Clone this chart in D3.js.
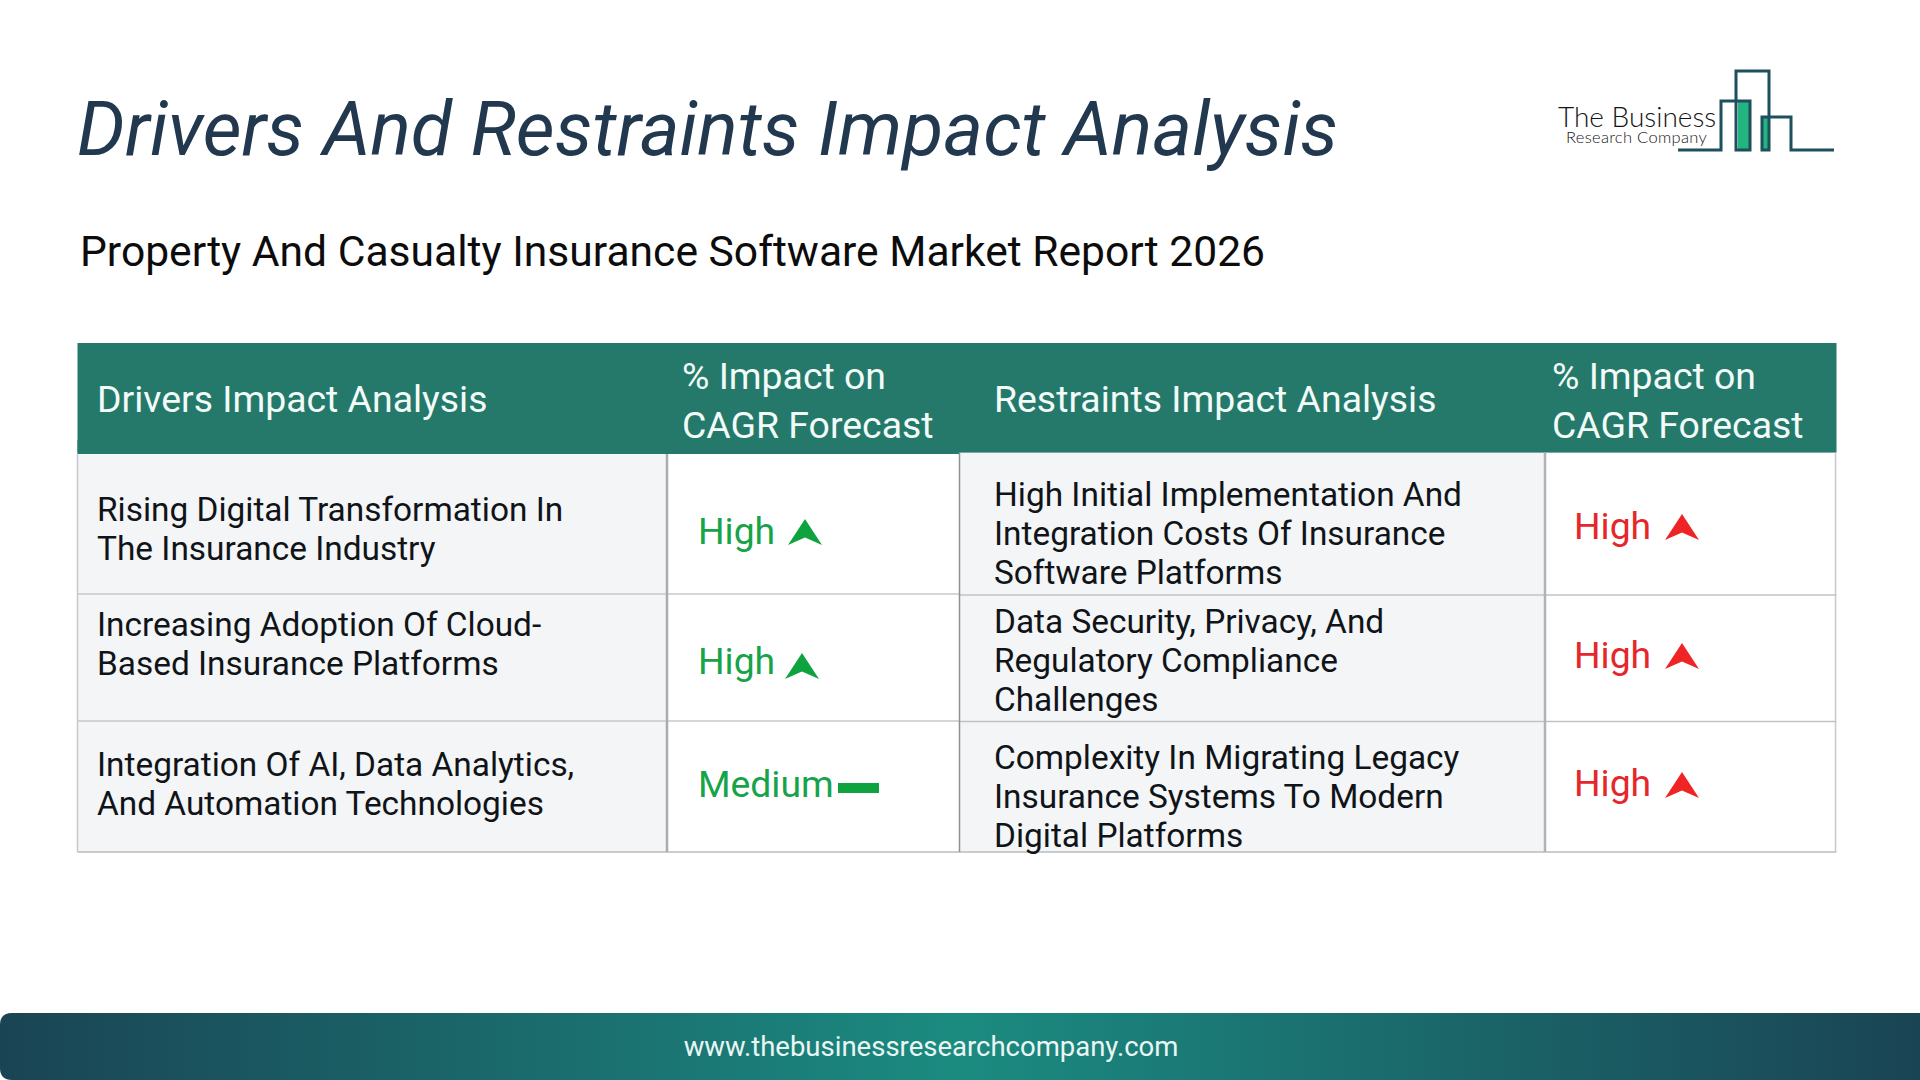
<!DOCTYPE html>
<html><head><meta charset="utf-8">
<script src="https://cdn.jsdelivr.net/npm/d3@7"></script>
<style>html,body{margin:0;padding:0;background:#fff;overflow:hidden}text{font-family:Roboto,sans-serif}</style>
</head><body><svg id="c" width="1920" height="1080"></svg>
<script>
const titleText = "Drivers And Restraints Impact Analysis";
const subtitleText = "Property And Casualty Insurance Software Market Report 2026";
const footerText = "www.thebusinessresearchcompany.com";
const headerLabels = [["Drivers Impact Analysis"],["% Impact on","CAGR Forecast"],["Restraints Impact Analysis"],["% Impact on","CAGR Forecast"]];
const drivers = [["Rising Digital Transformation In","The Insurance Industry"],["Increasing Adoption Of Cloud-","Based Insurance Platforms"],["Integration Of AI, Data Analytics,","And Automation Technologies"]];
const driverImpacts = ["High","High","Medium"];
const restraints = [["High Initial Implementation And","Integration Costs Of Insurance","Software Platforms"],["Data Security, Privacy, And","Regulatory Compliance","Challenges"],["Complexity In Migrating Legacy","Insurance Systems To Modern","Digital Platforms"]];
const restraintImpacts = ["High","High","High"];

// layout
const colX=[77.5,667,959.5,1545,1836.5];
const rowYL=[454,594,721,852], rowYR=[452.6,595,721.5,852];
const svg=d3.select("#c");
const defs=svg.append("defs");
const g=defs.append("linearGradient").attr("id","fg");
[[0,"#1a4454"],[.5,"#1b8b80"],[1,"#1a4454"]].forEach(s=>g.append("stop").attr("offset",s[0]).attr("stop-color",s[1]));

function T(x,y,s,size,fill,extra){const t=svg.append("text").attr("x",x).attr("y",y).attr("font-size",size).attr("fill",fill).text(s);if(extra)extra(t);return t;}

T(77,155,titleText,75.5,"#22384f",t=>t.attr("font-style","italic"));
T(80,266,subtitleText,42.6,"#0c0c0c");

// body fills
svg.append("rect").attr("x",colX[0]).attr("y",452).attr("width",colX[1]-colX[0]).attr("height",400).attr("fill","#f3f5f7");
svg.append("rect").attr("x",colX[2]).attr("y",452).attr("width",colX[3]-colX[2]).attr("height",400).attr("fill","#f3f5f7");
// header
svg.append("rect").attr("x",colX[0]).attr("y",343).attr("width",colX[4]-colX[0]).attr("height",rowYR[0]-343).attr("fill","#24796b");
svg.append("rect").attr("x",colX[0]).attr("y",440).attr("width",colX[2]-colX[0]).attr("height",rowYL[0]-440).attr("fill","#24796b");
const line=(x1,y1,x2,y2,c,w)=>svg.append("line").attr("x1",x1).attr("y1",y1).attr("x2",x2).attr("y2",y2).attr("stroke",c).attr("stroke-width",w);
// grid
[rowYL[1],rowYL[2]].forEach(y=>line(colX[0],y,colX[2],y,"#c6c8cb",1.5));
[rowYR[1],rowYR[2]].forEach(y=>line(colX[2],y,colX[4],y,"#c0c2c5",1.5));
line(colX[0],852,colX[4],852,"#b9bbbe",1.5);
line(colX[0],rowYL[0],colX[0],852,"#c6c8cb",1.5);
line(colX[1],rowYL[0],colX[1],852,"#a9abae",2.5);
line(colX[2],rowYR[0],colX[2],852,"#8f9194",1.5);
line(colX[3],rowYR[0],colX[3],852,"#b0b2b5",2.5);
line(colX[4]-1,rowYR[0],colX[4]-1,852,"#c6c8cb",1.5);

// header text
const hSize=37.4;
T(97,412,headerLabels[0][0],hSize,"#f2fbf8");
headerLabels[1].forEach((s,i)=>T(682,389+i*48.5,s,hSize,"#f2fbf8"));
T(994,412,headerLabels[2][0],hSize,"#f2fbf8");
headerLabels[3].forEach((s,i)=>T(1552,389+i*48.5,s,hSize,"#f2fbf8"));

// body text
const bSize=33.4, lh=39.2;
const driverBase=[521,636,776];
drivers.forEach((ls,r)=>ls.forEach((s,i)=>T(97,driverBase[r]+i*lh,s,bSize,"#101418")));
const restraintBase=[506,633,769];
restraints.forEach((ls,r)=>ls.forEach((s,i)=>T(994,restraintBase[r]+i*lh,s,bSize,"#101418")));

// impacts
const green="#17a34a", red="#e5262b";
const dBase=[544,674,797], rBase=[539,668,796];
driverImpacts.forEach((s,i)=>T(698,dBase[i],s,37.3,green));
restraintImpacts.forEach((s,i)=>T(1574,rBase[i],s,37.3,red));
const arrow=(cx,top,fill)=>svg.append("polygon").attr("fill",fill)
  .attr("points",[[cx,top],[cx+17,top+26],[cx,top+18.5],[cx-17,top+26]].map(p=>p.join(",")).join(" "));
arrow(805,519,"#0ea33f");arrow(802,653,"#0ea33f");
svg.append("rect").attr("x",838).attr("y",783).attr("width",41).attr("height",10).attr("fill","#0ea33f");
[514,643,772].forEach(t=>arrow(1682,t,"#ef2424"));

// logo
svg.append("rect").attr("x",1738).attr("y",102).attr("width",12).attr("height",48).attr("fill","#22b57f");
svg.append("rect").attr("x",1763).attr("y",118).attr("width",6).attr("height",32).attr("fill","#22b57f");
svg.append("path").attr("fill","none").attr("stroke","#1d4f5c").attr("stroke-width",3)
 .attr("d","M1678 150H1721V101H1750V150H1736V71H1769V150H1762V117H1791V150H1834");
T(1558,127,"The Business",28,"#151515",t=>t.attr("font-weight",300).style("font-family","Lato"));
T(1566,143,"Research Company",16.5,"#151515",t=>t.attr("font-weight",300).attr("letter-spacing",0.3).style("font-family","Lato"));

// footer
svg.append("path").attr("fill","url(#fg)").attr("d","M0 1025Q0 1013 12 1013H1920V1080H12Q0 1080 0 1068Z");
T(931,1056,footerText,27.5,"#eaf6f4",t=>t.attr("text-anchor","middle"));
</script></body></html>
